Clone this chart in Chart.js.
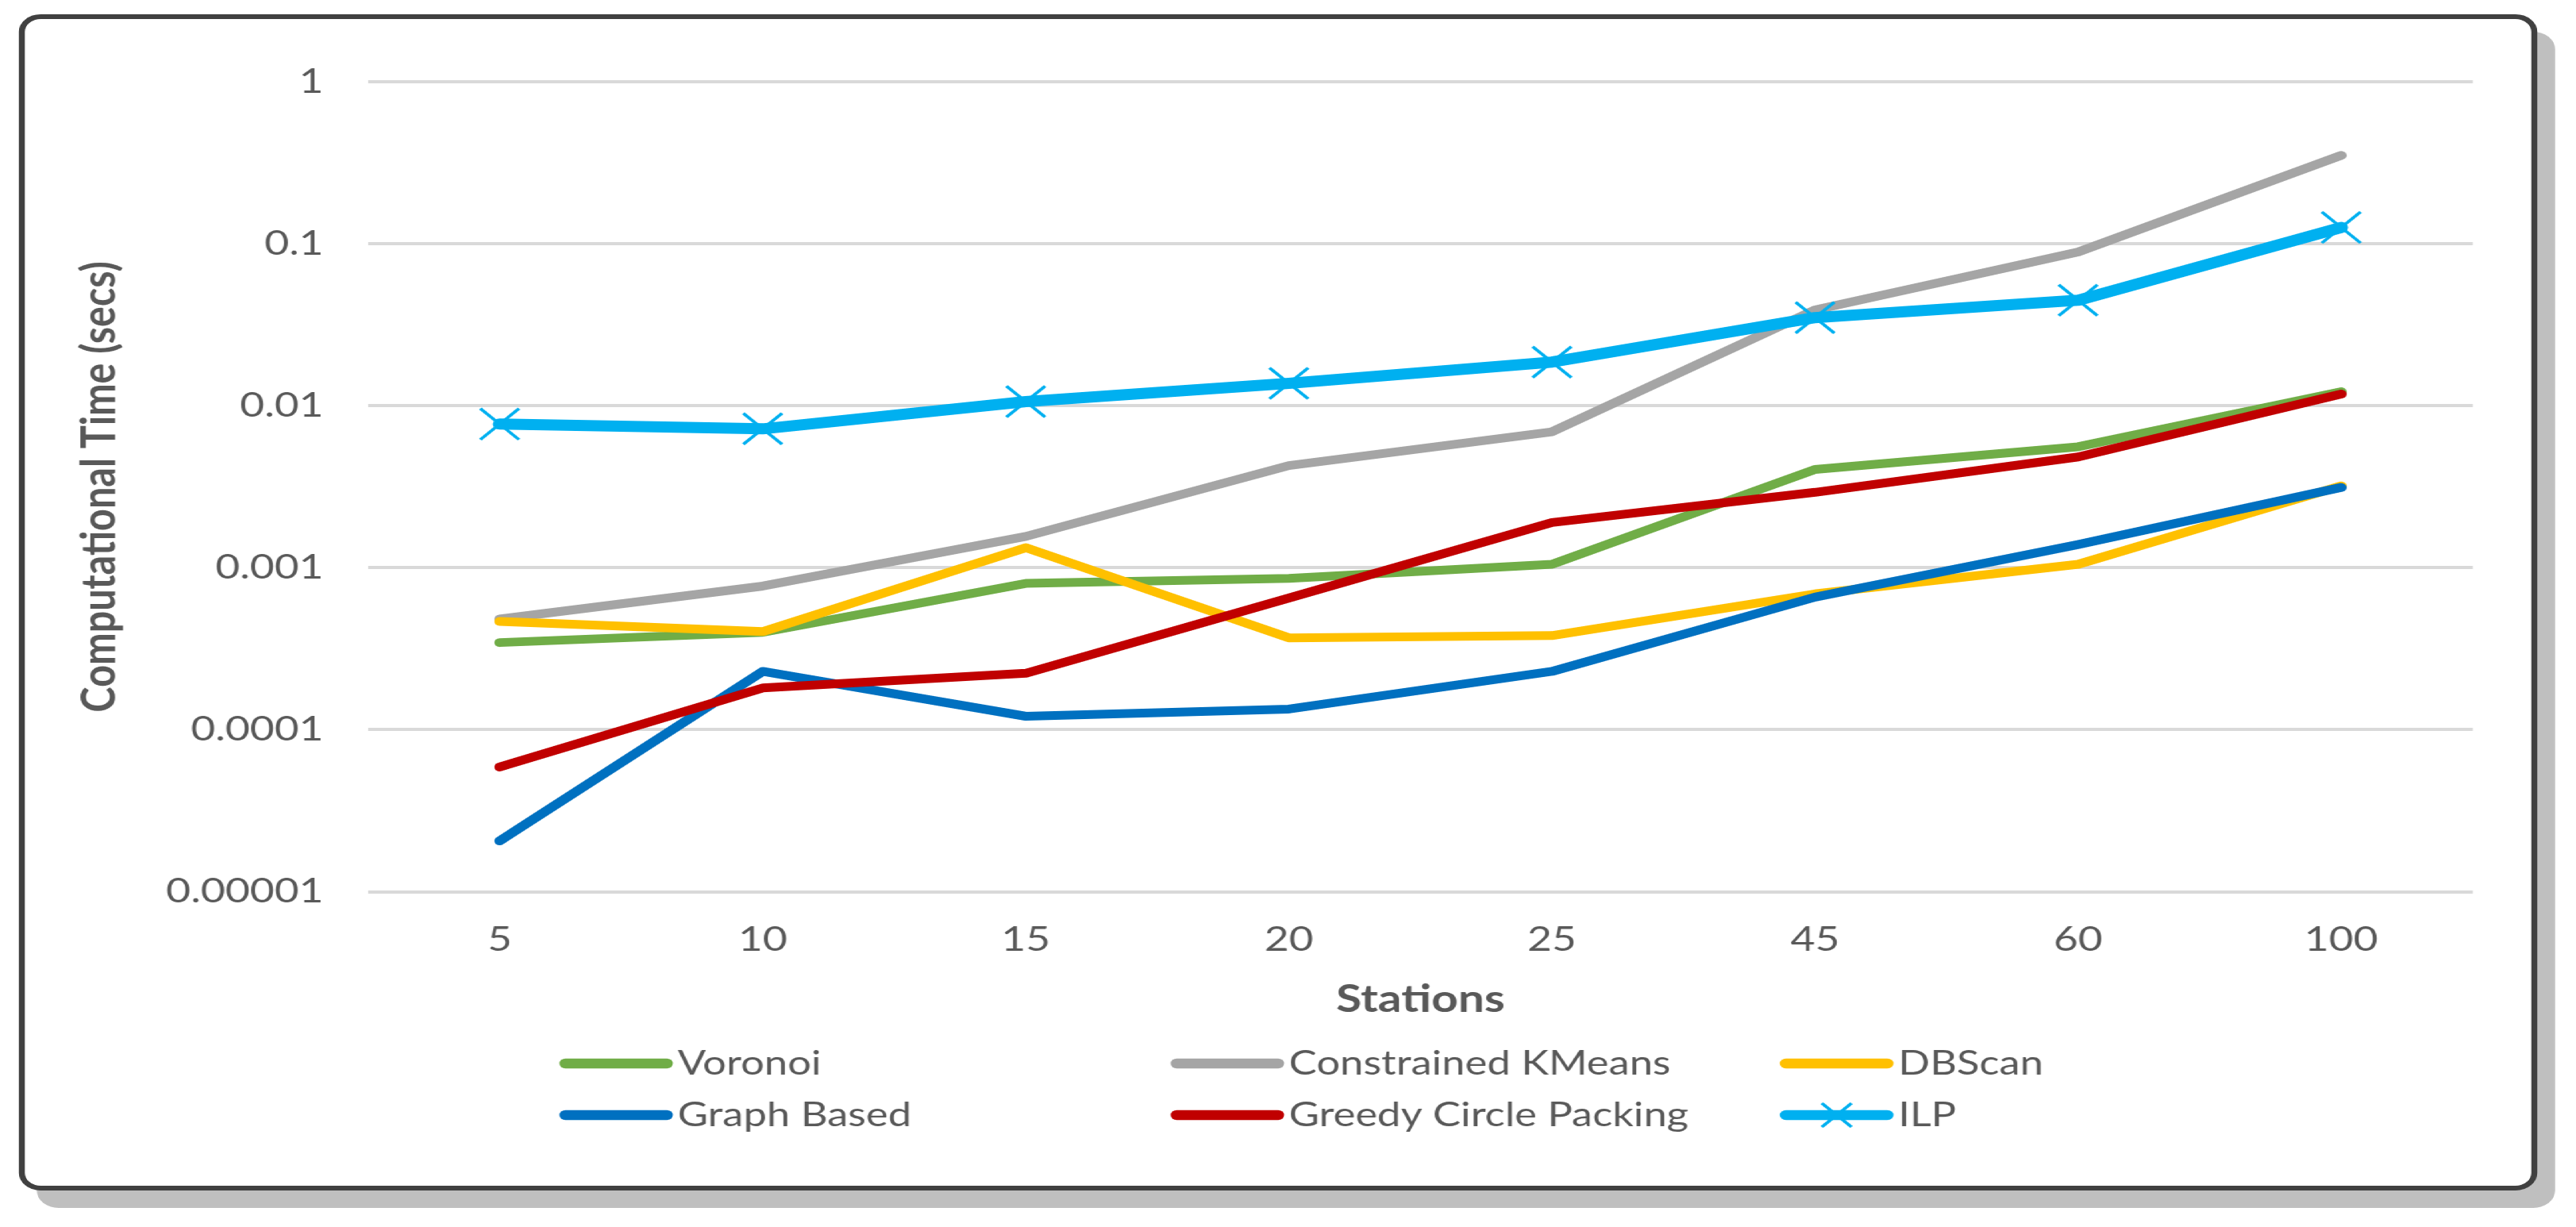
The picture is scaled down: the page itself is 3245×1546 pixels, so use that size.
<!DOCTYPE html>
<html>
<head>
<meta charset="utf-8">
<script src="https://cdn.jsdelivr.net/npm/chart.js@4.4.1/dist/chart.umd.min.js"></script>
<style>
  html, body { margin: 0; padding: 0; background: #fff; overflow: hidden; }
  /* the source picture is stretched sideways, so the whole drawing is too */
  #stage { position: absolute; left: 0; top: 0; width: 2596px; height: 1546px; transform: scaleX(1.25); transform-origin: 0 0; }
  #frame { position: absolute; left: 19px; top: 18px; width: 2526px; height: 1470px; border: 6px solid #404040; border-radius: 22px; background: #fff; box-shadow: 18px 22px 0 0 #bfbfbf; }
  #chart { position: absolute; left: 0; top: 0; }
</style>
</head>
<body>
<div id="stage">
  <div id="frame"></div>
  <canvas id="chart" width="2596" height="1546"></canvas>
</div>
<script>
const stations = ['5', '10', '15', '20', '25', '45', '60', '100'];

const voronoi      = [0.000345, 0.000399, 0.0008, 0.00086, 0.00105, 0.00404, 0.00558, 0.0122];
const kmeans       = [0.000482, 0.00077, 0.00156, 0.00427, 0.0069, 0.039, 0.089, 0.351];
const dbscan       = [0.000466, 0.000403, 0.00133, 0.000369, 0.000381, 0.000689, 0.00105, 0.0032];
const graphBased   = [0.0000206, 0.000229, 0.000121, 0.000134, 0.000229, 0.000658, 0.00139, 0.00313];
const greedyCircle = [0.0000588, 0.000181, 0.000223, 0.00065, 0.0019, 0.00292, 0.00483, 0.0118];
const ilp          = [0.0077, 0.0072, 0.0106, 0.01375, 0.0186, 0.035, 0.0448, 0.126];

const yTicks      = [0.00001, 0.0001, 0.001, 0.01, 0.1, 1];
const yTickLabels = ['0.00001', '0.0001', '0.001', '0.01', '0.1', '1'];

const TEXT = '#595959';

function series(label, data, color, order) {
  return {
    label, data, order,
    borderColor: color,
    backgroundColor: color,
    borderWidth: 11,
    borderCapStyle: 'round',
    borderJoinStyle: 'round',
    tension: 0,
    pointRadius: 0
  };
}

// Excel-like legend: two rows of three fixed columns
const gridLegend = {
  id: 'gridLegend',
  afterDraw(chart) {
    const ctx = chart.ctx;
    const cols = [564, 1180, 1794];
    const rows = [1340, 1405];
    chart.data.datasets.forEach((ds, i) => {
      const x = cols[i % 3];
      const y = rows[Math.floor(i / 3)];
      ctx.save();
      ctx.strokeStyle = ds.borderColor;
      ctx.lineCap = 'round';
      ctx.lineWidth = 12.5;
      ctx.beginPath();
      ctx.moveTo(x + 6, y);
      ctx.lineTo(x + 108, y);
      ctx.stroke();
      if (ds.pointStyle === 'crossRot') {
        const r = 15;
        const cx = x + 57;
        ctx.lineWidth = 3.5;
        ctx.lineCap = 'butt';
        ctx.beginPath();
        ctx.moveTo(cx - r, y - r); ctx.lineTo(cx + r, y + r);
        ctx.moveTo(cx - r, y + r); ctx.lineTo(cx + r, y - r);
        ctx.stroke();
      }
      ctx.fillStyle = TEXT;
      ctx.font = '42px Lato';
      ctx.textBaseline = 'middle';
      ctx.textAlign = 'left';
      ctx.fillText(ds.label, x + 119, y);
      ctx.restore();
    });
  }
};

function makeChart() {
  const ilpSeries = series('ILP', ilp, '#00b0f0', 1);
  ilpSeries.borderWidth = 14;
  ilpSeries.pointStyle = 'crossRot';
  ilpSeries.pointRadius = 27.6;
  ilpSeries.pointBorderWidth = 3.5;
  ilpSeries.pointBorderColor = '#00b0f0';

  new Chart(document.getElementById('chart'), {
    type: 'line',
    data: {
      labels: stations,
      datasets: [
        series('Voronoi', voronoi, '#70ad47', 6),
        series('Constrained KMeans', kmeans, '#a5a5a5', 5),
        series('DBScan', dbscan, '#ffc000', 4),
        series('Graph Based', graphBased, '#0070c0', 3),
        series('Greedy Circle Packing', greedyCircle, '#c00000', 2),
        ilpSeries
      ]
    },
    options: {
      responsive: false,
      devicePixelRatio: 1,
      animation: false,
      events: [],
      layout: { padding: { left: 0, top: 103, right: 104, bottom: 200 } },
      plugins: {
        legend: { display: false },
        tooltip: { enabled: false }
      },
      scales: {
        x: {
          type: 'category',
          offset: true,
          grid: { display: false, drawTicks: false },
          border: { display: false },
          afterFit: (scale) => { scale.height = 222.5; },
          ticks: {
            padding: 35,
            color: TEXT,
            maxRotation: 0,
            autoSkip: false,
            font: { family: 'Lato', size: 42.7 }
          },
          title: {
            display: true,
            text: 'Stations',
            color: TEXT,
            font: { family: 'Lato', size: 47, weight: 'bold' },
            padding: { top: 0, bottom: 58 }
          }
        },
        y: {
          type: 'logarithmic',
          min: 0.00001,
          max: 1,
          afterBuildTicks: (scale) => { scale.ticks = yTicks.map(v => ({ value: v })); },
          afterFit: (scale) => { scale.width = 371; },
          grid: { color: '#d9d9d9', lineWidth: 4, drawTicks: false },
          border: { display: false },
          ticks: {
            padding: 45,
            color: TEXT,
            font: { family: 'Lato', size: 42.7 },
            callback: (value, index) => yTickLabels[index]
          },
          title: {
            display: true,
            text: 'Computational Time (secs)',
            color: TEXT,
            font: { family: 'Lato', size: 48.5, weight: 'bold' },
            padding: { top: 71.5, bottom: 0 }
          }
        }
      }
    },
    plugins: [gridLegend]
  });
}

Promise.all([
  document.fonts.load('42px Lato'),
  document.fonts.load('bold 46px Lato')
]).then(makeChart, makeChart);
</script>
</body>
</html>
